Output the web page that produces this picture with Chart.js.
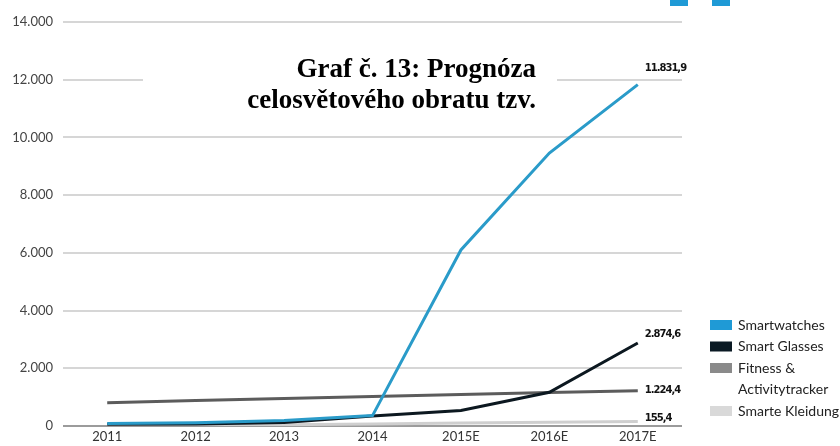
<!DOCTYPE html>
<html>
<head>
<meta charset="utf-8">
<script src="https://cdn.jsdelivr.net/npm/chart.js@4"></script>
<style>
  html, body { margin: 0; padding: 0; background: #fff; }
  #wrap { width: 840px; height: 446px; }
</style>
</head>
<body>
<div id="wrap"><canvas id="chart" width="840" height="446"></canvas></div>
<script>
// Data
const years = ['2011', '2012', '2013', '2014', '2015E', '2016E', '2017E'];
const seriesNames = ['Smartwatches', 'Smart Glasses', 'Fitness &\nActivitytracker', 'Smarte Kleidung'];
const smartwatches = [90, 110, 190, 360, 6100, 9460, 11831.9];
const smartGlasses = [60, 70, 120, 350, 540, 1170, 2874.6];
const fitnessTracker = [810, 880, 950, 1020, 1090, 1160, 1224.4];
const smartClothing = [10, 25, 45, 70, 100, 130, 155.4];
const yTicks = [0, 2000, 4000, 6000, 8000, 10000, 12000, 14000];
const titleLines = ['Graf č. 13: Prognóza', 'celosvětového obratu tzv.'];

const lineColors = ['#2a9bc9', '#0c1820', '#5c5c5c', '#cfcfcf'];
const swatchColors = ['#1f9ad6', '#0b1a24', '#8a8a8a', '#d9d9d9'];
const labelNudge = [-16, -9, 0, -3];

// german number format: 11.831,9
function fmt(v, decimals) {
    const parts = v.toFixed(decimals).split('.');
    const whole = parts[0].replace(/\B(?=(\d{3})+(?!\d))/g, '.');
    return parts.length > 1 ? whole + ',' + parts[1] : whole;
}

const sansFont = 'Lato, "Open Sans", sans-serif';

// white box with the title, logo bits, end labels and the legend
const decorPlugin = {
    id: 'decor',
    beforeDatasetsDraw(chart) {
        const ctx = chart.ctx;
        ctx.save();
        ctx.fillStyle = '#fff';
        ctx.fillRect(143, 50, 414, 66);
        ctx.font = 'bold 27px "Liberation Serif", "Times New Roman", serif';
        ctx.fillStyle = '#000';
        ctx.textAlign = 'right';
        ctx.textBaseline = 'middle';
        ctx.fillText(titleLines[0], 536, 70);
        ctx.fillText(titleLines[1], 536, 101);
        ctx.restore();
    },
    afterDraw(chart) {
        const ctx = chart.ctx;
        ctx.save();
        // cut-off logo squares at the top edge
        ctx.fillStyle = '#1f9ad6';
        ctx.fillRect(670, 0, 18, 6);
        ctx.fillRect(712, 0, 18, 6);

        // value labels at the last point of each line
        ctx.font = 'bold 10px "DejaVu Sans", sans-serif';
        ctx.letterSpacing = '-1px';
        ctx.fillStyle = '#111';
        ctx.textAlign = 'left';
        ctx.textBaseline = 'middle';
        chart.data.datasets.forEach((ds, i) => {
            const meta = chart.getDatasetMeta(i);
            const last = meta.data[meta.data.length - 1];
            ctx.fillText(fmt(ds.data[ds.data.length - 1], 1), last.x + 7, last.y + labelNudge[i]);
        });
        ctx.letterSpacing = '0px';

        // legend
        ctx.font = '14px ' + sansFont;
        let y = 325;
        seriesNames.forEach((name, i) => {
            ctx.fillStyle = swatchColors[i];
            ctx.fillRect(710, y - 5, 22, 10);
            ctx.fillStyle = '#222';
            name.split('\n').forEach(line => {
                ctx.fillText(line, 738, y);
                y += 21.5;
            });
        });
        ctx.restore();
    }
};

const ctx = document.getElementById('chart').getContext('2d');
const datasetValues = [smartwatches, smartGlasses, fitnessTracker, smartClothing];

new Chart(ctx, {
    type: 'line',
    data: {
        labels: years,
        datasets: datasetValues.map((vals, i) => ({
            label: seriesNames[i].replace('\n', ' '),
            data: vals,
            borderColor: lineColors[i],
            backgroundColor: swatchColors[i],
            borderWidth: 3,
            pointRadius: 0,
            tension: 0
        }))
    },
    options: {
        responsive: false,
        animation: false,
        layout: {
            padding: { top: 22, right: 158, bottom: 0, left: 0 }
        },
        scales: {
            x: {
                offset: true,
                grid: { display: false, drawTicks: false },
                border: { display: false },
                ticks: {
                    color: '#333',
                    font: { family: sansFont, size: 13 },
                    padding: 3
                },
                afterFit(scale) { scale.height = 20; }
            },
            y: {
                min: 0,
                max: 14000,
                border: { display: false },
                grid: {
                    drawTicks: false,
                    lineWidth: 2,
                    color: c => c.tick.value === 0 ? '#9b9b9b' : '#d6d6d6'
                },
                afterBuildTicks(scale) {
                    scale.ticks = yTicks.map(v => ({ value: v }));
                },
                ticks: {
                    color: '#444',
                    font: { family: sansFont, size: 13 },
                    padding: 10,
                    callback: v => fmt(v, 0)
                },
                afterFit(scale) { scale.width = 63; }
            }
        },
        plugins: {
            legend: { display: false },
            tooltip: { enabled: false }
        }
    },
    plugins: [decorPlugin]
});
</script>
</body>
</html>
